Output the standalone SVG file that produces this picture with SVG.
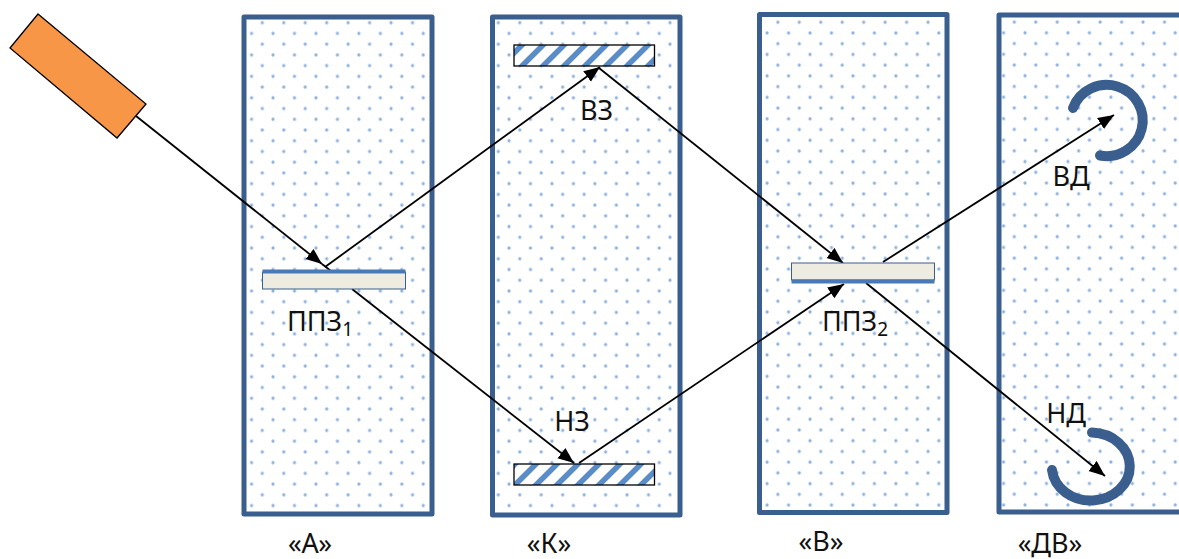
<svg xmlns="http://www.w3.org/2000/svg" width="1179" height="559" viewBox="0 0 1179 559">
<style>
.panel{stroke:#3a5f8e;stroke-width:5;stroke-linejoin:round}
.dot{fill:#5b8fd0;fill-opacity:.7}
.lbl{font-family:"Noto Sans","Open Sans","Liberation Sans",sans-serif;font-size:27px;fill:#111}
.sub{font-size:19px}
.con{stroke:#000;stroke-width:1.8;fill:none}
.arr{marker-end:url(#ah)}
.ring{fill:none;stroke:#3a5f8e;stroke-width:10;stroke-linecap:round}
.bar{fill:#eeece1;stroke:#3a5f8e;stroke-width:1}
.top{fill:#4a7ab5}
.mirror{stroke:#000;stroke-width:1.3}
.stripe{stroke:#5a8cc8;stroke-width:5.500}
</style>
<defs>
<marker id="ah" markerUnits="userSpaceOnUse" markerWidth="18" markerHeight="14" refX="16" refY="6.500" orient="auto"><path d="M0 0L16 6.500L0 13Z" fill="#000"/></marker>
<pattern id="hatchB" patternUnits="userSpaceOnUse" width="21" height="21" patternTransform="translate(514 45)">
<rect width="21" height="21" fill="#fff"/>
<path class="stripe" d="M-5.250 5.250L5.250 -5.250M0 21L21 0M15.750 26.250L26.250 15.750"/>
</pattern>
<pattern id="hatchT" patternUnits="userSpaceOnUse" width="21" height="21" patternTransform="translate(522 45)">
<rect width="21" height="21" fill="#fff"/>
<path class="stripe" d="M-5.250 5.250L5.250 -5.250M0 21L21 0M15.750 26.250L26.250 15.750"/>
</pattern>
<pattern id="dA" patternUnits="userSpaceOnUse" width="21.46" height="21.46" patternTransform="translate(262.3 237.3)"><circle cx="0" cy="0" r="1.6" class="dot"/><circle cx="21.46" cy="0" r="1.6" class="dot"/><circle cx="0" cy="21.46" r="1.6" class="dot"/><circle cx="21.46" cy="21.46" r="1.6" class="dot"/><circle cx="10.73" cy="10.73" r="1.6" class="dot"/></pattern>
<pattern id="dK" patternUnits="userSpaceOnUse" width="21.46" height="21.46" patternTransform="translate(498.3 22.7)"><circle cx="0" cy="0" r="1.6" class="dot"/><circle cx="21.46" cy="0" r="1.6" class="dot"/><circle cx="0" cy="21.46" r="1.6" class="dot"/><circle cx="21.46" cy="21.46" r="1.6" class="dot"/><circle cx="10.73" cy="10.73" r="1.6" class="dot"/></pattern>
<pattern id="dV" patternUnits="userSpaceOnUse" width="21.46" height="21.46" patternTransform="translate(799.3 258.3)"><circle cx="0" cy="0" r="1.6" class="dot"/><circle cx="21.46" cy="0" r="1.6" class="dot"/><circle cx="0" cy="21.46" r="1.6" class="dot"/><circle cx="21.46" cy="21.46" r="1.6" class="dot"/><circle cx="10.73" cy="10.73" r="1.6" class="dot"/></pattern>
<pattern id="dD" patternUnits="userSpaceOnUse" width="21.46" height="21.46" patternTransform="translate(1014.3 65)"><circle cx="0" cy="0" r="1.6" class="dot"/><circle cx="21.46" cy="0" r="1.6" class="dot"/><circle cx="0" cy="21.46" r="1.6" class="dot"/><circle cx="21.46" cy="21.46" r="1.6" class="dot"/><circle cx="10.73" cy="10.73" r="1.6" class="dot"/></pattern>
</defs>
<rect width="1179" height="559" fill="#fff"/>
<g id="panel-a"><rect class="panel" x="244" y="17" width="188" height="497" fill="url(#dA)"/><text class="lbl" x="310" y="553" text-anchor="middle">«А»</text></g>
<g id="panel-k"><rect class="panel" x="492.500" y="17" width="187.500" height="498" fill="url(#dK)"/><text class="lbl" x="549" y="553" text-anchor="middle">«К»</text></g>
<g id="panel-v"><rect class="panel" x="759.500" y="14.500" width="187.500" height="498" fill="url(#dV)"/><text class="lbl" x="821" y="551" text-anchor="middle">«В»</text></g>
<g id="panel-dv"><rect class="panel" x="999" y="15" width="200" height="497" fill="url(#dD)"/><text class="lbl" x="1050" y="553" text-anchor="middle">«ДВ»</text></g>
<g id="connectors">
<path class="con arr" d="M136 116L322 264"/>
<path class="con" d="M322 264L340 278"/>
<path class="con arr" d="M352 289L574 463"/>
<path class="con arr" d="M325 267L600 67"/>
<path class="con arr" d="M599 68L843 263"/>
<path class="con arr" d="M579 463L844 284"/>
<path class="con arr" d="M883 262L1114 115"/>
<path class="con arr" d="M866 283L1105 476"/>
</g>
<g id="laser"><polygon points="38,14 146,104 117,138 10,48" fill="#f79646" stroke="#000" stroke-width="1.3"/></g>
<g id="pbs1"><rect class="bar" x="262.500" y="272" width="143" height="17"/><rect class="top" x="262.500" y="269.500" width="143" height="4"/><text class="lbl" x="287" y="331">ППЗ<tspan class="sub" dy="5">1</tspan></text></g>
<g id="pbs2"><rect class="bar" x="791.500" y="263" width="143" height="17"/><rect class="top" x="791.500" y="279.500" width="143" height="4"/><text class="lbl" x="822" y="331">ППЗ<tspan class="sub" dy="5">2</tspan></text></g>
<g id="mirror-top"><rect class="mirror" fill="url(#hatchT)" x="514" y="45" width="140.500" height="21"/><text class="lbl" x="596.500" y="120" text-anchor="middle">ВЗ</text></g>
<g id="mirror-bottom"><rect class="mirror" fill="url(#hatchB)" x="514" y="464" width="140.500" height="21"/><text class="lbl" x="572" y="431" text-anchor="middle">НЗ</text></g>
<g id="det-top"><path class="ring" d="M1073 108A36 35.600 0 1 1 1100 155.500"/><text class="lbl" x="1071" y="186" text-anchor="middle">ВД</text></g>
<g id="det-bottom"><path class="ring" d="M1092 432.500A39 34 0 1 1 1052 470"/><text class="lbl" x="1066" y="423" text-anchor="middle">НД</text></g>
</svg>
